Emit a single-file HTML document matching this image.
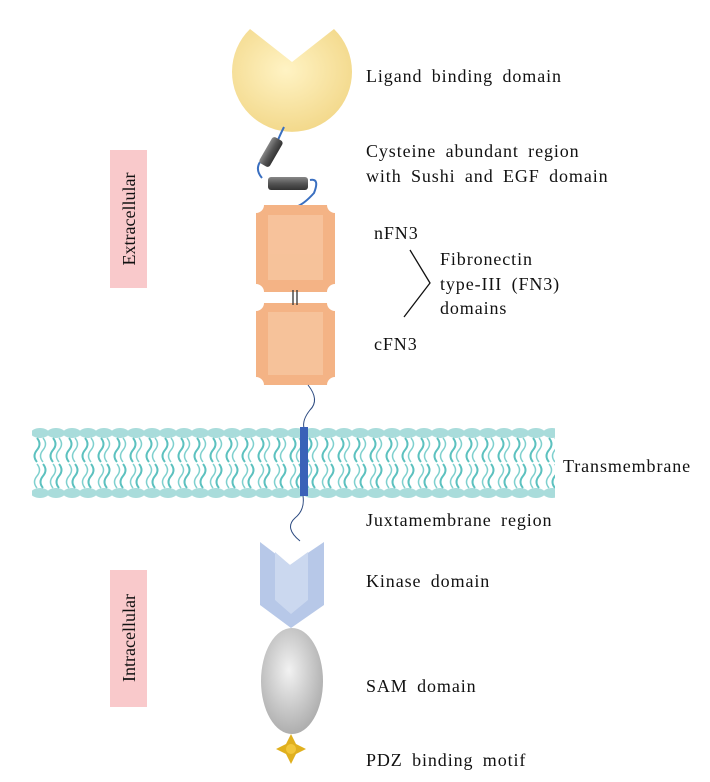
<!DOCTYPE html>
<html><head><meta charset="utf-8"><style>
body{margin:0;background:#fff}
svg{display:block}
text{font-family:"Liberation Serif",serif;font-size:18px;letter-spacing:0.9px;word-spacing:4px;fill:#111}
</style></head><body>
<svg width="710" height="782" viewBox="0 0 710 782">
<defs>
<radialGradient id="yel" cx="0.45" cy="0.4" r="0.6"><stop offset="0" stop-color="#fff3c4"/><stop offset="1" stop-color="#f3d98c"/></radialGradient>
<linearGradient id="cyl" x1="0" y1="0" x2="0" y2="1"><stop offset="0" stop-color="#888"/><stop offset="0.5" stop-color="#555"/><stop offset="1" stop-color="#333"/></linearGradient>
<radialGradient id="gry" cx="0.45" cy="0.4" r="0.65"><stop offset="0" stop-color="#f2f2f2"/><stop offset="1" stop-color="#a9a9a9"/></radialGradient>
<pattern id="lip" x="32" y="428" width="16" height="70" patternUnits="userSpaceOnUse">
<ellipse cx="8" cy="5" rx="9" ry="5" fill="#a9dcdb"/>
<ellipse cx="8" cy="65" rx="9" ry="5" fill="#a9dcdb"/>
<path d="M5 10 q5 6 0 12 q-5 6 0 12 M11 36 q5 6 0 12 q-5 6 0 12" stroke="#5cc1bf" stroke-width="2" fill="none"/>
<path d="M11 10 q5 6 0 12 q-5 6 0 12 M5 36 q5 6 0 12 q-5 6 0 12" stroke="#7fd0ce" stroke-width="1.5" fill="none"/>
</pattern>
</defs>
<rect x="110" y="150" width="37" height="138" fill="#f9c9cb"/>
<text transform="translate(135,219) rotate(-90)" text-anchor="middle" style="letter-spacing:0;word-spacing:0">Extracellular</text>
<rect x="110" y="570" width="37" height="137" fill="#f9c9cb"/>
<text transform="translate(135,638) rotate(-90)" text-anchor="middle" style="letter-spacing:0;word-spacing:0">Intracellular</text>
<path d="M250 29 L292 62 L334 29 A60 60 0 1 1 250 29 Z" fill="url(#yel)"/>
<path d="M284 127 Q280 135 278 140 M260 162 Q255 170 262 178 M310 180 Q320 178 314 193 Q305 203 298 206" stroke="#3a6fc0" stroke-width="2" fill="none"/>
<g transform="translate(271,152) rotate(-60)"><rect x="-15" y="-6" width="30" height="12" rx="3" fill="url(#cyl)"/></g>
<rect x="268" y="177" width="40" height="13" rx="3" fill="url(#cyl)"/>
<g fill="#f4b385">
<rect x="256" y="205" width="79" height="87"/>
<rect x="256" y="303" width="79" height="82"/>
</g>
<g fill="#f8c9a4" opacity="0.7"><rect x="268" y="215" width="55" height="65"/><rect x="268" y="312" width="55" height="63"/></g>
<g fill="#fff">
<circle cx="256" cy="205" r="8"/><circle cx="335" cy="205" r="8"/><circle cx="256" cy="292" r="8"/><circle cx="335" cy="292" r="8"/>
<circle cx="256" cy="303" r="8"/><circle cx="335" cy="303" r="8"/><circle cx="256" cy="385" r="8"/><circle cx="335" cy="385" r="8"/>
</g>
<path d="M293 290 V305 M297 290 V305" stroke="#333" stroke-width="1.3"/>
<path d="M308 385 Q320 400 310 410 Q302 420 304 428" stroke="#2c4a80" stroke-width="1" fill="none"/>
<rect x="32" y="428" width="523" height="70" fill="url(#lip)"/>
<rect x="300" y="427" width="8" height="69" fill="#3a62b8"/>
<path d="M303 496 Q305 510 295 518 Q284 528 300 541" stroke="#2c4a80" stroke-width="1" fill="none"/>
<path d="M260 542 L290 565 L324 542 V605 L291 628 L260 605 Z" fill="#b7c8e8"/>
<path d="M275 552 L290 565 L308 552 V600 L291 614 L275 600 Z" fill="#cbd8ef"/>
<ellipse cx="292" cy="681" rx="31" ry="53" fill="url(#gry)"/>
<path d="M291 734 L296 744 L306 749 L296 754 L291 764 L286 754 L276 749 L286 744 Z" fill="#e0b01e"/>
<circle cx="291" cy="749" r="5" fill="#f2c73a"/>
<path d="M410 250 L430 283 L404 317" stroke="#111" stroke-width="1.3" fill="none"/>
<text x="366" y="82">Ligand binding domain</text>
<text x="366" y="157">Cysteine abundant region</text>
<text x="366" y="182">with Sushi and EGF domain</text>
<text x="374" y="239">nFN3</text>
<text x="440" y="265">Fibronectin</text>
<text x="440" y="290">type-III (FN3)</text>
<text x="440" y="314">domains</text>
<text x="374" y="350">cFN3</text>
<text x="563" y="472">Transmembrane</text>
<text x="366" y="526">Juxtamembrane region</text>
<text x="366" y="587">Kinase domain</text>
<text x="366" y="692">SAM domain</text>
<text x="366" y="766">PDZ binding motif</text>
</svg>
</body></html>
